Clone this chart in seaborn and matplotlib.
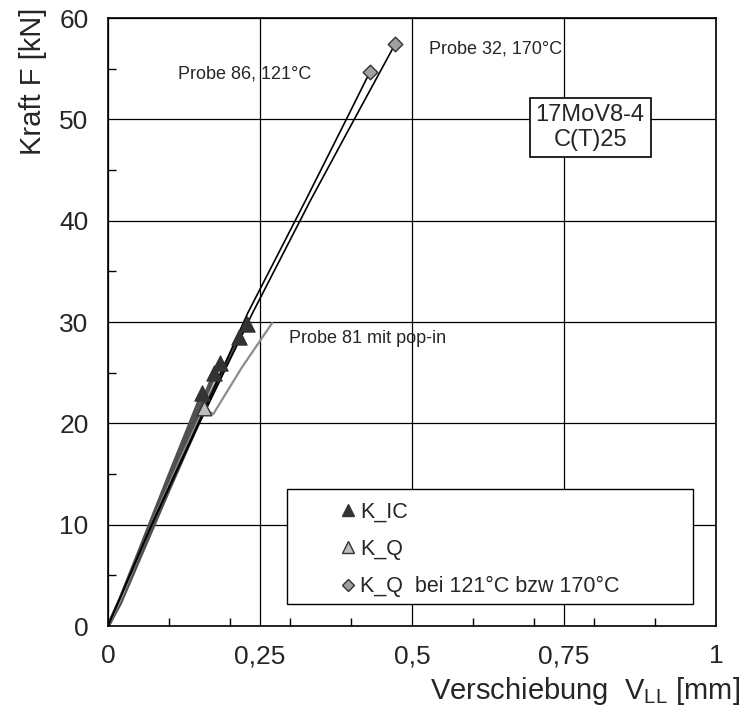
import matplotlib
matplotlib.use("Agg")
import matplotlib.pyplot as plt
from matplotlib.lines import Line2D
from matplotlib.patches import Rectangle
from matplotlib.ticker import MultipleLocator
import seaborn as sns

sns.set_theme(style="white")
plt.rcParams['font.family'] = ['Liberation Sans', 'DejaVu Sans']

# Kraft-Verschiebungs-Kurven (Raumtemperatur, K_IC gueltig)
kic_v = [
    [0, 0.02, 0.05, 0.10, 0.15, 0.20, 0.228],
    [0, 0.02, 0.05, 0.10, 0.15, 0.215],
    [0, 0.02, 0.05, 0.10, 0.15, 0.185],
    [0, 0.02, 0.05, 0.10, 0.175],
    [0, 0.02, 0.05, 0.10, 0.155],
]
kic_f = [
    [0, 2.2, 6.4, 13.4, 20.2, 26.5, 29.8],
    [0, 2.4, 6.7, 13.7, 20.5, 28.5],
    [0, 2.5, 6.8, 14.0, 21.2, 26.0],
    [0, 2.6, 7.0, 14.3, 25.0],
    [0, 2.7, 7.2, 14.8, 23.0],
]
# Probe 81 mit pop-in
p81_v = [0, 0.02, 0.07, 0.12, 0.158, 0.173, 0.22, 0.27]
p81_f = [0, 2.5, 9.8, 16.6, 21.5, 20.9, 25.5, 29.9]
# Probe 86 (121 C) und Probe 32 (170 C)
p86_v = [0, 0.07, 0.15, 0.230, 0.325, 0.392, 0.431]
p86_f = [0, 9.8, 20.2, 30.9, 42.0, 50.0, 54.7]
p32_v = [0, 0.07, 0.15, 0.237, 0.333, 0.405, 0.472]
p32_f = [0, 9.7, 20.0, 30.8, 42.0, 50.0, 57.4]

# Kennwerte
kic_pt_v = [0.228, 0.215, 0.185, 0.175, 0.155]
kic_pt_f = [29.8, 28.5, 26.0, 25.0, 23.0]
kq_pt_v = [0.158]
kq_pt_f = [21.5]
kqt_pt_v = [0.431, 0.472]
kqt_pt_f = [54.7, 57.4]

x_ticks = [0, 0.25, 0.5, 0.75, 1]
x_labels = ["0", "0,25", "0,5", "0,75", "1"]
y_ticks = [0, 10, 20, 30, 40, 50, 60]

fig = plt.figure(figsize=(7.42, 7.13), dpi=100)
ax = fig.add_axes([108 / 742, 1 - 626 / 713, 608 / 742, 608 / 713])

for v, f in zip(kic_v, kic_f):
    sns.lineplot(x=v, y=f, sort=False, color='#505050', lw=2.5, ax=ax)
sns.lineplot(x=p81_v, y=p81_f, sort=False, color='#8c8c8c', lw=1.6, ax=ax)
sns.lineplot(x=p86_v, y=p86_f, sort=False, color='black', lw=1.2, ax=ax)
sns.lineplot(x=p32_v, y=p32_f, sort=False, color='black', lw=1.2, ax=ax)

sns.scatterplot(x=kic_pt_v, y=kic_pt_f, marker='^', s=120, color='#333333',
                edgecolor='#333333', zorder=5, ax=ax)
sns.scatterplot(x=kq_pt_v, y=kq_pt_f, marker='^', s=110, color='#bdbdbd',
                edgecolor='#333333', linewidth=1, zorder=5, ax=ax)
sns.scatterplot(x=kqt_pt_v, y=kqt_pt_f, marker='D', s=55, color='#a0a0a0',
                edgecolor='#333333', linewidth=1, zorder=5, ax=ax)

ax.set_xlim(0, 1)
ax.set_ylim(0, 60)
ax.set_xticks(x_ticks)
ax.set_xticklabels(x_labels)
ax.set_yticks(y_ticks)
ax.xaxis.set_minor_locator(MultipleLocator(0.1))
ax.yaxis.set_minor_locator(MultipleLocator(5))
ax.grid(True, which='major', color='black', lw=0.9)
ax.tick_params(which='major', length=0, labelsize=19)
ax.tick_params(axis='x', which='major', pad=13)
ax.tick_params(axis='y', which='major', pad=14)
ax.tick_params(which='minor', direction='in', length=6, width=1, color='black',
               bottom=True, left=True)
for sp in ax.spines.values():
    sp.set_color('black')
    sp.set_linewidth(1.2)

ax.set_xlabel("Verschiebung  V$_\\mathregular{LL}$ [mm]", fontsize=21, loc='right')
ax.xaxis.set_label_coords(1.04, -0.08)
ax.set_ylabel("Kraft F [kN]", fontsize=21, loc='top')
ax.yaxis.set_label_coords(-0.1, 1.017)

ax.text(0.115, 54.5, "Probe 86, 121°C", fontsize=13, va='center')
ax.text(0.528, 56.9, "Probe 32, 170°C", fontsize=13, va='center')
ax.text(0.298, 28.4, "Probe 81 mit pop-in", fontsize=13, va='center')
ax.text(0.793, 49.2, "17MoV8-4\nC(T)25", fontsize=17, ha='center', va='center',
        multialignment='center', linespacing=1.15, zorder=6,
        bbox=dict(boxstyle='square,pad=0.25', fc='white', ec='black', lw=1.2))

# Legende mit Rahmen
ax.add_patch(Rectangle((0.294, 0.036), 0.668, 0.189, transform=ax.transAxes,
                       fc='white', ec='black', lw=1.0, zorder=6))
handles = [
    Line2D([], [], ls='none', marker='^', ms=9, mfc='#333333', mec='#333333'),
    Line2D([], [], ls='none', marker='^', ms=9, mfc='#bdbdbd', mec='#333333'),
    Line2D([], [], ls='none', marker='D', ms=6.5, mfc='#a0a0a0', mec='#333333'),
]
labels = ["K_IC", "K_Q", "K_Q  bei 121°C bzw 170°C"]
leg = ax.legend(handles, labels, loc='upper left', bbox_to_anchor=(0.355, 0.229),
                frameon=False, fontsize=15.5, handlelength=0.8, handletextpad=0.2,
                labelspacing=0.75, borderpad=0.2)
leg.set_zorder(7)

fig.savefig("out.png", dpi=100)
